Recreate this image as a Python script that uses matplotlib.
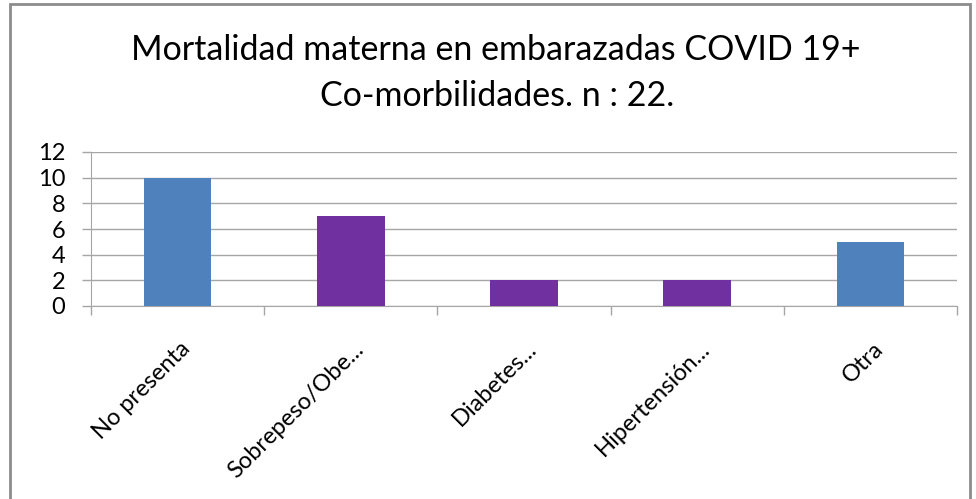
import matplotlib
matplotlib.use("Agg")
import matplotlib.pyplot as plt
from matplotlib.patches import Rectangle

categories = ["No presenta", "Sobrepeso/Obe...", "Diabetes...", "Hipertensión...", "Otra"]
values = [10, 7, 2, 2, 5]
colors = ["#4F81BD", "#7030A0", "#7030A0", "#7030A0", "#4F81BD"]
yticks = [0, 2, 4, 6, 8, 10, 12]

plt.rcParams['font.family'] = ['Lato', 'DejaVu Sans']

W, H = 976, 499
fig = plt.figure(figsize=(W / 100, H / 100), dpi=100)
ax = fig.add_axes([91 / W, 1 - 306 / H, (957 - 91) / W, (306 - 152) / H])

x = list(range(len(categories)))
ax.bar(x, values, width=0.39, color=colors, zorder=3)
ax.set_xlim(-0.5, len(categories) - 0.5)
ax.set_ylim(0, 12)
ax.set_yticks(yticks)
ax.set_yticklabels([str(v) for v in yticks], fontsize=17)
ax.yaxis.grid(True, color="#a6a6a6", linewidth=1, zorder=0)

ax.set_xticks([i - 0.5 for i in range(len(categories) + 1)])
ax.set_xticklabels([])
ax.tick_params(axis="x", length=6.5, color="#a6a6a6", width=1)
ax.tick_params(axis="y", length=6.5, color="#a6a6a6", width=1, pad=12)
for i, c in enumerate(categories):
    ax.text(i + 0.01, -2.5, c, rotation=45, ha="right", va="top",
            rotation_mode="anchor", fontsize=17, transform=ax.transData)

for s in ["top", "right"]:
    ax.spines[s].set_visible(False)
ax.spines["left"].set_color("#a6a6a6")
ax.spines["bottom"].set_color("#a6a6a6")

fig.text(496 / W, 1 - 50 / H, "Mortalidad materna en embarazadas COVID 19+",
         ha="center", va="center", fontsize=24.5)
fig.text(497 / W, 1 - 96 / H, "Co-morbilidades. n : 22.",
         ha="center", va="center", fontsize=24.5)

fig.patches.append(Rectangle((10 / W, -0.1), (970 - 10) / W, 1.1 - 4 / H,
                             transform=fig.transFigure, fill=False,
                             edgecolor="#8c8c8c", linewidth=2))

fig.savefig("out.png", dpi=100)
